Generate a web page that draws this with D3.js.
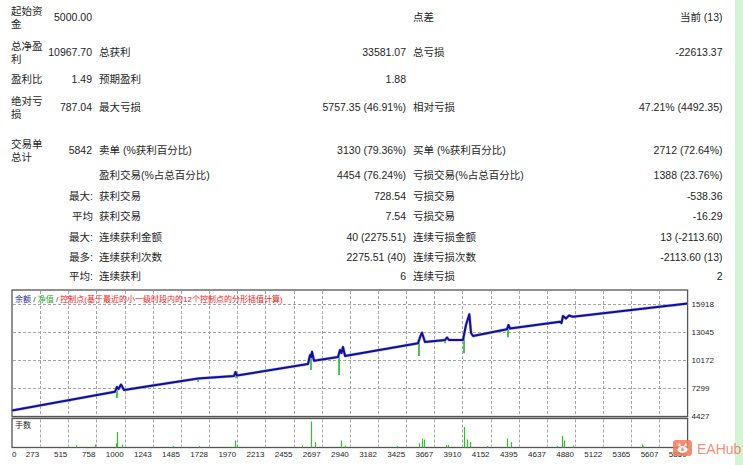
<!DOCTYPE html>
<html>
<head>
<meta charset="utf-8">
<script src="https://cdnjs.cloudflare.com/ajax/libs/d3/7.8.5/d3.min.js"></script>
<style>
  body { margin: 0; background: #fff; }
  svg text { font-family: "Liberation Sans", "Noto Sans CJK SC", sans-serif; fill: #1e1e1e; }
</style>
</head>
<body>
<div class="graphics"></div>
<script>
// ---- stats table ----
var col1Labels = [["起始资","金"],["总净盈","利"],["盈利比"],["绝对亏","损"],["交易单","总计"],[],[],[],[],[],[]];
var subLabels = ["","","","","","","最大:","平均","最大:","最多:","平均:"];
var col1Values = ["5000.00","10967.70","1.49","787.04","5842","","","","","",""];
var col2Labels = ["","总获利","预期盈利","最大亏损","卖单 (%获利百分比)","盈利交易(%占总百分比)","获利交易","获利交易","连续获利金额","连续获利次数","连续获利"];
var col2Values = ["","33581.07","1.88","5757.35 (46.91%)","3130 (79.36%)","4454 (76.24%)","728.54","7.54","40 (2275.51)","2275.51 (40)","6"];
var col3Labels = ["点差","总亏损","","相对亏损","买单 (%获利百分比)","亏损交易(%占总百分比)","亏损交易","亏损交易","连续亏损金额","连续亏损次数","连续亏损"];
var col3Values = ["当前 (13)","-22613.37","","47.21% (4492.35)","2712 (72.64%)","1388 (23.76%)","-538.36","-16.29","13 (-2113.60)","-2113.60 (13)","2"];

// ---- chart data ----
var xTickLabels = ["0","273","515","758","1000","1243","1485","1728","1970","2213","2455","2697","2940","3182","3425","3667","3910","4152","4395","4637","4880","5122","5365","5607","5850"];
var yTicks = [15918, 13045, 10172, 7299, 4427];

// balance curve (trade number / balance)
var balTrade = [0, 892, 909, 922, 944, 970, 1611, 1922, 1935, 1948, 2563, 2581, 2590, 2598, 2615, 2823, 2840, 2853, 2866, 2884, 3516, 3537, 3550, 3576, 3750, 3767, 3784, 3905, 3931, 3960, 3975, 3992, 4286, 4299, 4312, 4745, 4758, 4771, 4797, 4823, 4858, 5850];
var balValue = [5000, 6920, 7403, 7197, 7659, 7095, 8275, 8531, 8942, 8582, 9763, 10686, 10480, 11024, 10101, 10481, 11199, 10891, 11507, 10583, 11886, 12635, 12974, 12020, 12225, 12481, 12225, 12225, 13764, 14862, 12943, 12635, 13323, 13764, 13405, 14103, 13970, 14687, 14431, 14739, 14616, 15970];

// equity drawdown spikes (trade number / equity low)
var eqTrade = [502, 909, 1611, 1940, 2589, 2832, 3524, 3750, 3914, 4295, 4754, 5455, 5741];
var eqLow = [5895, 6274, 7946, 8300, 9147, 8634, 10583, 11900, 10860, 12502, 13836, 15303, 15650];

// lots panel
var volTrade = [554, 719, 901, 909, 953, 1394, 1619, 1931, 1949, 2511, 2589, 2624, 2849, 2884, 3332, 3527, 3548, 3568, 3758, 3776, 3917, 3938, 3966, 4111, 4284, 4319, 4717, 4766, 4783, 4856, 5453, 5467];
var volLots = [0.2, 0.3, 0.4, 1.55, 0.3, 0.15, 0.15, 0.7, 0.2, 0.2, 2.6, 0.55, 0.7, 0.2, 0.15, 0.4, 0.9, 0.8, 0.25, 0.25, 2.05, 0.8, 0.55, 0.15, 0.9, 0.55, 0.15, 1.15, 0.7, 0.2, 0.3, 0.15];

var W = 743, H = 465;
var svg;

function drawTable(){
    var rowY = [17, 52, 79, 107, 150, 175, 196, 216, 237, 257, 276];
    var g = svg.append('g').attr('font-size', '10.5px');
    rowY.forEach(function(y, i){
        var l = col1Labels[i];
        l.forEach(function(s, k){
            g.append('text').attr('x', 11)
             .attr('y', l.length > 1 ? y - 6.5 + k * 13 : y)
             .attr('dominant-baseline', 'central').text(s);
        });
        if (subLabels[i]) g.append('text').attr('x', 93).attr('y', y)
            .attr('text-anchor', 'end').attr('dominant-baseline', 'central').text(subLabels[i]);
        g.append('text').attr('x', 92).attr('y', y).attr('text-anchor', 'end')
         .attr('dominant-baseline', 'central').text(col1Values[i]);
        g.append('text').attr('x', 99).attr('y', y).attr('dominant-baseline', 'central').text(col2Labels[i]);
        g.append('text').attr('x', 406).attr('y', y).attr('text-anchor', 'end')
         .attr('dominant-baseline', 'central').text(col2Values[i]);
        g.append('text').attr('x', 413).attr('y', y).attr('dominant-baseline', 'central').text(col3Labels[i]);
        g.append('text').attr('x', 722.5).attr('y', y).attr('text-anchor', 'end')
         .attr('dominant-baseline', 'central').text(col3Values[i]);
    });
}

function drawChart(){
    var x0 = 12, x1 = 687.6, yTop = 290, mainBottom = 416.5, volTop = 418.5, volBottom = 447.5;

    var x = d3.scaleLinear().domain([0, 5850]).range([x0, x1]);
    var xPoint = d3.scalePoint().domain(xTickLabels).range([x0, x1]);
    var y = d3.scaleLinear().domain([4427, 15918]).range([416, 304]);
    var v = d3.scaleLinear().domain([0, 2.9]).range([volBottom, volTop]);

    // frames (drawn first, white fill)
    svg.append('rect').attr('x', x0).attr('y', yTop).attr('width', x1 - x0).attr('height', mainBottom - yTop)
        .attr('fill', '#ffffff').attr('stroke', '#555').attr('stroke-width', 1.3);
    svg.append('rect').attr('x', x0).attr('y', volTop).attr('width', x1 - x0).attr('height', volBottom - volTop)
        .attr('fill', '#ffffff').attr('stroke', '#555').attr('stroke-width', 1.3);
    svg.append('rect').attr('x', x0).attr('y', mainBottom + 0.6).attr('width', x1 - x0).attr('height', volTop - mainBottom - 1.2)
        .attr('fill', '#9a9a9a');

    // dashed grid as one path
    var gd = '';
    xTickLabels.slice(1, -1).forEach(function(d){
        var gx = Math.round(xPoint(d)) + 0.5;
        gd += 'M' + gx + ',' + (yTop + 1) + 'L' + gx + ',' + (mainBottom - 1);
        gd += 'M' + gx + ',' + (volTop + 1) + 'L' + gx + ',' + (volBottom - 1);
    });
    yTicks.slice(0, -1).forEach(function(d){
        var gy = Math.round(y(d)) + 0.5;
        gd += 'M' + (x0 + 1) + ',' + gy + 'L' + (x1 - 1) + ',' + gy;
    });
    svg.append('path').attr('d', gd).style('fill', 'none').style('stroke', '#a4a4a4')
        .style('stroke-width', '1px').style('stroke-dasharray', '3 2');

    svg.append('clipPath').attr('id', 'clipMain').append('rect')
        .attr('x', x0).attr('y', yTop).attr('width', x1 - x0).attr('height', mainBottom - yTop);
    var plot = svg.append('g').attr('clip-path', 'url(#clipMain)');

    var balPts = balTrade.map(function(t, i){ return [t, balValue[i]]; });
    var balAt = function(t){
        var i = d3.bisectLeft(balTrade, t);
        if (i <= 0) return balValue[0];
        var t0 = balTrade[i - 1], t1 = balTrade[i];
        return balValue[i - 1] + (balValue[i] - balValue[i - 1]) * (t - t0) / (t1 - t0);
    };

    // equity spikes
    plot.selectAll('.eq').data(eqTrade).enter().append('line')
        .attr('x1', function(d){ return x(d); }).attr('x2', function(d){ return x(d); })
        .attr('y1', function(d){ return y(balAt(d)); })
        .attr('y2', function(d, i){ return y(eqLow[i]); })
        .attr('stroke', '#22b322').attr('stroke-width', 1.6);

    var line = d3.line().x(function(d){ return x(d[0]); }).y(function(d){ return y(d[1]); });
    plot.append('path').datum(balPts).attr('d', line)
        .attr('fill', 'none').attr('stroke', '#b4b6ea').attr('stroke-width', 3).attr('stroke-linejoin', 'round');
    plot.append('path').datum(balPts).attr('d', line)
        .attr('fill', 'none').attr('stroke', '#0e0ea0').attr('stroke-width', 2).attr('stroke-linejoin', 'round');

    // lots bars
    svg.selectAll('.vol').data(volTrade).enter().append('line')
        .attr('x1', function(d){ return Math.round(x(d)) + 0.5; })
        .attr('x2', function(d){ return Math.round(x(d)) + 0.5; })
        .attr('y1', volBottom).attr('y2', function(d, i){ return v(volLots[i]); })
        .attr('stroke', '#2cc42c').attr('stroke-width', 1.2);

    // y labels
    svg.selectAll('.yl').data(yTicks).enter().append('text')
        .attr('x', x1 + 4).attr('y', function(d){ return y(d); })
        .attr('dominant-baseline', 'central').attr('font-size', '8px')
        .text(function(d){ return d; });

    // x labels (right-aligned on grid line)
    svg.selectAll('.xl').data(xTickLabels).enter().append('text')
        .attr('x', function(d, i){ return i === 0 ? x0 : xPoint(d) - 1; })
        .attr('y', 454).attr('dominant-baseline', 'central').attr('font-size', '8px')
        .attr('text-anchor', function(d, i){ return i === 0 ? 'start' : 'end'; })
        .text(function(d){ return d; });

    // legend
    var lg = svg.append('text').attr('x', 15).attr('y', 299).attr('dominant-baseline', 'central')
        .attr('font-size', '8px');
    lg.append('tspan').style('fill', '#2a2aa8').text('余额');
    lg.append('tspan').style('fill', '#333').text(' / ');
    lg.append('tspan').style('fill', '#1fae1f').text('净值');
    lg.append('tspan').style('fill', '#333').text(' / ');
    lg.append('tspan').style('fill', '#f02020').text('控制点(基于最近的小一级时段内的12个控制点的分形插值计算)');

    svg.append('text').attr('x', 15).attr('y', 425).attr('dominant-baseline', 'central')
        .attr('font-size', '8px').text('手数');
}

function drawDecor(){
    svg.append('rect').attr('x', 735).attr('y', 0).attr('width', 8).attr('height', H).attr('fill', '#d7f3d7');
    // watermark
    var wm = svg.append('g').attr('opacity', 0.85);
    wm.append('rect').attr('x', 673).attr('y', 440).attr('width', 19).attr('height', 16).attr('rx', 3)
        .attr('fill', '#f27c58');
    wm.append('ellipse').attr('cx', 682.5).attr('cy', 449.5).attr('rx', 5).attr('ry', 3.5).attr('fill', '#fff');
    wm.append('path').attr('d', 'M678,446 L679,442.5 L681,445.5 Z M687,446 L686,442.5 L684,445.5 Z').attr('fill', '#fff');
    wm.append('circle').attr('cx', 682.5).attr('cy', 449.5).attr('r', 1.6).attr('fill', '#f27c58');
    wm.append('text').attr('x', 697).attr('y', 448.5).attr('dominant-baseline', 'central')
        .attr('font-family', '"DejaVu Serif", "Liberation Serif", serif').attr('font-size', '14px')
        .style('fill', '#f07c5c').text('EAHub');
}

svg = d3.select('.graphics').append('svg').attr('width', W).attr('height', H);
drawTable();
drawChart();
drawDecor();
</script>
</body>
</html>
